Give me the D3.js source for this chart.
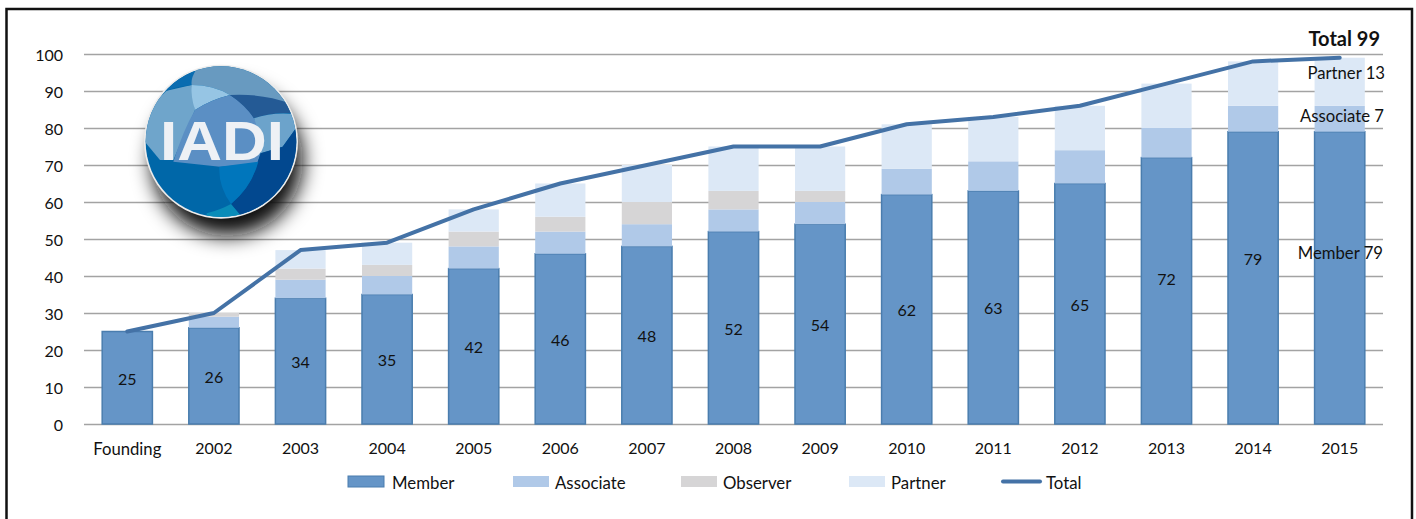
<!DOCTYPE html>
<html>
<head>
<meta charset="utf-8">
<script src="https://d3js.org/d3.v7.min.js"></script>
<style>
  html, body { margin: 0; padding: 0; background: #fff; }
  svg { display: block; }
  text { font-family: Lato, "Open Sans", sans-serif; fill: #111; }
</style>
</head>
<body>
<div id="chart"></div>
<script>
// chart values
const categories = ["Founding", "2002", "2003", "2004", "2005", "2006", "2007", "2008", "2009", "2010", "2011", "2012", "2013", "2014", "2015"];
const member    = [25, 26, 34, 35, 42, 46, 48, 52, 54, 62, 63, 65, 72, 79, 79];
const associate = [0, 3, 5, 5, 6, 6, 6, 6, 6, 7, 8, 9, 8, 7, 7];
const observer  = [0, 1, 3, 3, 4, 4, 6, 5, 3, 0, 0, 0, 0, 0, 0];
const partner   = [0, 0, 5, 6, 6, 9, 10, 12, 12, 12, 12, 12, 12, 12, 13];
const total     = [25, 30, 47, 49, 58, 65, 70, 75, 75, 81, 83, 86, 92, 98, 99];
const yTicks = [0, 10, 20, 30, 40, 50, 60, 70, 80, 90, 100];
const seriesNames = ["Member", "Associate", "Observer", "Partner"];
const seriesColors = ["#6595c7", "#b0c9e8", "#d6d5d6", "#dce8f6"];

// the two late member labels sit higher than the middle of the bar
const labelShift = {"2013": -13, "2014": -20};

const width = 1416, height = 519;
const margin = {top: 54, right: 33, bottom: 95, left: 84};
const innerW = width - margin.left - margin.right;
const innerH = height - margin.top - margin.bottom;

const svg = d3.select("#chart").append("svg")
    .attr("width", width)
    .attr("height", height);

// frame, open at the bottom
svg.append("path")
    .attr("d", `M6.5,${height} V9 H1412 V${height}`)
    .attr("fill", "none")
    .attr("stroke", "#111")
    .attr("stroke-width", 2.5);

const g = svg.append("g")
    .attr("transform", `translate(${margin.left}, ${margin.top})`);

const x = d3.scaleBand()
    .domain(categories)
    .range([0, innerW])
    .paddingInner(0.42)
    .paddingOuter(0.21);

const y = d3.scaleLinear()
    .domain([0, 100])
    .range([innerH, 0]);

// Y axis and gridlines
const yAxis = g.append("g")
    .call(d3.axisLeft(y).tickValues(yTicks).tickSize(-innerW).tickPadding(21));
yAxis.select(".domain").remove();
yAxis.selectAll("line").attr("stroke", "#a3a3a3").attr("stroke-width", 1.5);
yAxis.selectAll("text").attr("font-size", 16).attr("dy", "0.42em").style("fill", "#111");

// X axis
const xAxis = g.append("g")
    .attr("transform", `translate(0, ${innerH})`)
    .call(d3.axisBottom(x).tickSize(0).tickPadding(19));
xAxis.select(".domain").remove();
xAxis.selectAll("text")
    .attr("font-size", d => d === "Founding" ? 16.7 : 16)
    .style("fill", "#111");

// stacked bars
const rows = categories.map((c, i) => ({
  category: c,
  Member: member[i],
  Associate: associate[i],
  Observer: observer[i],
  Partner: partner[i]
}));
const stacked = d3.stack().keys(seriesNames)(rows);

g.selectAll(".series")
  .data(stacked)
  .enter()
  .append("g")
    .attr("class", "series")
    .attr("fill", (d, i) => seriesColors[i])
  .selectAll("rect")
  .data(d => d)
  .enter()
  .append("rect")
    .attr("x", d => x(d.data.category))
    .attr("y", d => y(d[1]))
    .attr("width", x.bandwidth())
    .attr("height", d => y(d[0]) - y(d[1]));

// member bars get their darker outline
g.selectAll(".series").filter((d, i) => i === 0).selectAll("rect")
    .attr("stroke", "#4a7dae")
    .attr("stroke-width", 1.5);

// total line
const line = d3.line()
    .x((d, i) => x(categories[i]) + x.bandwidth() / 2)
    .y(d => y(d));
g.append("path")
    .datum(total)
    .attr("d", line)
    .attr("fill", "none")
    .attr("stroke", "#4472a6")
    .attr("stroke-width", 4)
    .attr("stroke-linecap", "round")
    .attr("stroke-linejoin", "round");

// member value labels, the last bar is covered by its note instead
g.selectAll(".valueLabel")
  .data(member.slice(0, -1))
  .enter()
  .append("text")
    .attr("class", "valueLabel")
    .attr("x", (d, i) => x(categories[i]) + x.bandwidth() / 2)
    .attr("y", (d, i) => y(d / 2) + 1 + (labelShift[categories[i]] || 0))
    .attr("dy", "0.36em")
    .attr("text-anchor", "middle")
    .attr("font-size", 16)
    .text(d => d);

// notes on the last bar
const notes = [
  {label: "Total 99", right: 1380, base: 46, bold: true},
  {label: "Partner 13", right: 1385, base: 79},
  {label: "Associate 7", right: 1384, base: 122},
  {label: "Member 79", right: 1383, base: 259}
];
svg.selectAll(".note")
  .data(notes)
  .enter()
  .append("text")
    .attr("class", "note")
    .attr("x", d => d.right)
    .attr("y", d => d.base)
    .attr("text-anchor", "end")
    .attr("font-size", d => d.bold ? 20 : 16.7)
    .attr("font-weight", d => d.bold ? 700 : 400)
    .text(d => d.label);

// legend
const legend = [
  {label: "Member", color: seriesColors[0], x: 348, text: 392},
  {label: "Associate", color: seriesColors[1], x: 513, text: 555},
  {label: "Observer", color: seriesColors[2], x: 681, text: 723},
  {label: "Partner", color: seriesColors[3], x: 849, text: 891}
];
const legendG = svg.append("g");
legendG.selectAll("rect")
  .data(legend)
  .enter()
  .append("rect")
    .attr("x", d => d.x)
    .attr("y", 476)
    .attr("width", 36)
    .attr("height", 11)
    .attr("fill", d => d.color)
    .attr("stroke", d => d.label === "Member" ? "#4a7dae" : "none");
legendG.append("line")
    .attr("x1", 1003).attr("x2", 1040)
    .attr("y1", 481.5).attr("y2", 481.5)
    .attr("stroke", "#4472a6")
    .attr("stroke-width", 4)
    .attr("stroke-linecap", "round");
legendG.selectAll("text")
  .data(legend.concat([{label: "Total", text: 1046}]))
  .enter()
  .append("text")
    .attr("x", d => d.text)
    .attr("y", 489)
    .attr("font-size", 16.8)
    .text(d => d.label);

// IADI logo, drawn on a 3x grid
const defs = svg.append("defs");
defs.append("filter").attr("id", "logoShadow")
    .attr("x", "-50%").attr("y", "-50%").attr("width", "200%").attr("height", "200%")
  .append("feGaussianBlur").attr("stdDeviation", 30);
defs.append("filter").attr("id", "soft")
  .append("feGaussianBlur").attr("stdDeviation", 2);
defs.append("clipPath").attr("id", "logoClip")
  .append("circle").attr("cx", 273).attr("cy", 275).attr("r", 226);

const logo = svg.append("g").attr("transform", "translate(130, 50) scale(0.3333)");
logo.append("circle")
    .attr("cx", 292).attr("cy", 332).attr("r", 226)
    .attr("fill", "#111")
    .attr("filter", "url(#logoShadow)");
logo.append("circle")
    .attr("cx", 273).attr("cy", 275).attr("r", 231)
    .attr("fill", "#ececec");

const shapes = [
  ["#0067a8", "M30,30 H520 V520 H30 Z"],
  ["#6fa5cb", "M30,240 L40,270 L90,330 L130,330 L195,180 L185,105 L110,122 L40,190 Z"],
  ["#0a6cb0", "M90,130 Q140,108 185,105 L198,62 L130,70 Z"],
  ["#689ac0", "M198,60 Q182,85 185,105 Q250,105 300,135 Q400,135 485,170 L500,190 L500,40 L198,40 Z"],
  ["#96c5e4", "M185,105 Q250,105 300,135 Q240,150 195,180 Q182,140 185,105 Z"],
  ["#5b8fc4", "M195,180 Q240,150 300,135 Q360,170 385,230 L392,310 L380,345 Q320,345 270,350 L130,335 Q160,240 195,180 Z"],
  ["#245a95", "M300,135 Q400,130 478,160 L495,190 Q430,185 372,205 Q345,165 300,135 Z"],
  ["#6ca3cb", "M372,205 Q430,185 497,193 L505,225 L458,290 L392,310 Q390,250 372,205 Z"],
  ["#02488f", "M505,225 L458,290 L392,310 L380,345 Q365,410 303,462 L335,500 L520,400 L520,225 Z"],
  ["#0076bc", "M268,350 L385,335 Q365,410 303,462 Q265,410 268,350 Z"],
  ["#0a8cb8", "M230,490 Q270,480 303,462 L335,500 L230,510 Z"]
];
const shapeG = logo.append("g").attr("clip-path", "url(#logoClip)");
shapeG.selectAll("path")
  .data(shapes)
  .enter()
  .append("path")
    .attr("fill", d => d[0])
    .attr("d", d => d[1]);

logo.append("text")
    .attr("x", 90)
    .attr("y", 329)
    .attr("textLength", 372)
    .attr("lengthAdjust", "spacingAndGlyphs")
    .attr("font-size", 166)
    .attr("font-weight", 700)
    .style("font-family", "'Liberation Sans', sans-serif")
    .style("fill", "#eef1f5")
    .attr("filter", "url(#soft)")
    .text("IADI");
</script>
</body>
</html>
